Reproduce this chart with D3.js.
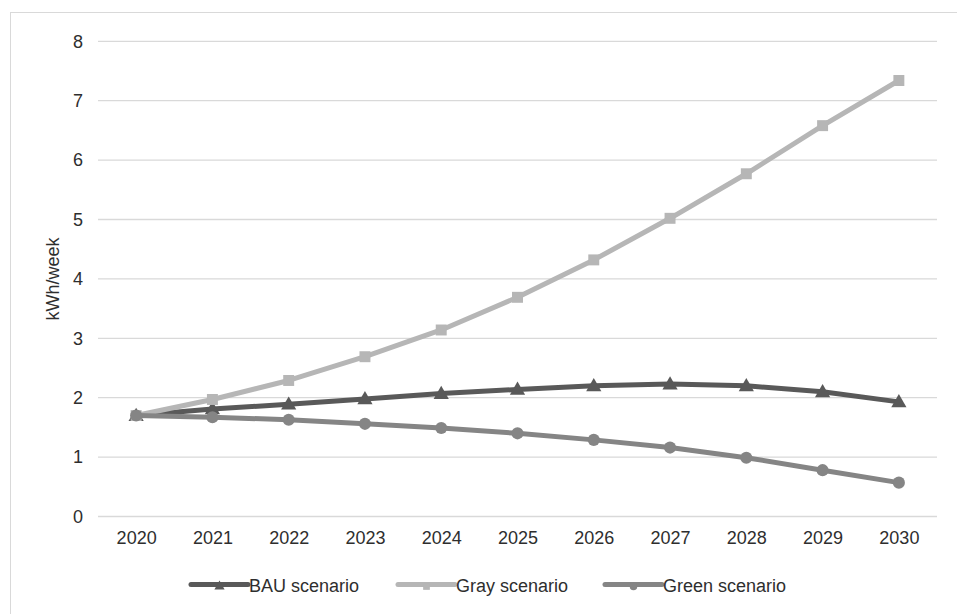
<!DOCTYPE html>
<html>
<head>
<meta charset="utf-8">
<script src="https://cdn.jsdelivr.net/npm/d3@7/dist/d3.min.js"></script>
<style>
  html, body { margin: 0; padding: 0; background: #fff; }
  svg { display: block; font-family: "Liberation Sans", Arial, sans-serif; }
</style>
</head>
<body>
<svg id="chart" width="957" height="614"></svg>
<script>
// Weekly energy use per scenario, 2020–2030
const years = ["2020","2021","2022","2023","2024","2025","2026","2027","2028","2029","2030"];
const bauValues   = [1.70, 1.81, 1.89, 1.98, 2.07, 2.14, 2.20, 2.23, 2.20, 2.10, 1.93];
const grayValues  = [1.70, 1.97, 2.29, 2.69, 3.14, 3.69, 4.32, 5.02, 5.77, 6.58, 7.34];
const greenValues = [1.70, 1.67, 1.63, 1.56, 1.49, 1.40, 1.29, 1.16, 0.99, 0.78, 0.57];
const yTicks = [0, 1, 2, 3, 4, 5, 6, 7, 8];
const seriesNames = ["BAU scenario", "Gray scenario", "Green scenario"];

const series = [
  { name: seriesNames[0], values: bauValues,   color: "#595959", marker: "triangle" },
  { name: seriesNames[1], values: grayValues,  color: "#b6b6b6", marker: "square" },
  { name: seriesNames[2], values: greenValues, color: "#858585", marker: "circle" }
];

const svg = d3.select("#chart");
const W = 957, H = 614;
const plot = { left: 98, right: 937, top: 41.3, bottom: 516.5 };
const textColor = "#2e2e2e";

// Outer chart frame
svg.append("rect")
  .attr("x", 10.5).attr("y", 12.5)
  .attr("width", W - 10).attr("height", H - 8)
  .attr("fill", "none").attr("stroke", "#d9d9d9").attr("stroke-width", 1);

const x = d3.scalePoint().domain(years).range([plot.left, plot.right]).padding(0.5);
const y = d3.scaleLinear().domain([0, 8]).range([plot.bottom, plot.top]);

// Horizontal gridlines
svg.append("g").selectAll("line").data(yTicks).join("line")
  .attr("x1", plot.left).attr("x2", plot.right)
  .attr("y1", d => y(d)).attr("y2", d => y(d))
  .attr("stroke", "#d9d9d9").attr("stroke-width", 1.3);

// Y axis labels
const yAxis = svg.append("g")
  .attr("transform", `translate(${plot.left},0)`)
  .call(d3.axisLeft(y).tickValues(yTicks).tickSize(0).tickPadding(15).tickFormat(d3.format("d")));
yAxis.select(".domain").remove();
yAxis.selectAll("text").attr("font-size", 18).attr("fill", textColor)
  .attr("font-family", "Liberation Sans, Arial, sans-serif");

// X axis labels
const xAxis = svg.append("g")
  .attr("transform", `translate(0,${plot.bottom})`)
  .call(d3.axisBottom(x).tickSize(0).tickPadding(15));
xAxis.select(".domain").remove();
xAxis.selectAll("text").attr("font-size", 18).attr("fill", textColor)
  .attr("font-family", "Liberation Sans, Arial, sans-serif");

// Y axis title
svg.append("text")
  .attr("transform", `translate(59,${(plot.top + plot.bottom) / 2}) rotate(-90)`)
  .attr("text-anchor", "middle")
  .attr("font-size", 18).attr("fill", textColor)
  .text("kWh/week");

const symbolFor = {
  triangle: d3.symbol().type(d3.symbolTriangle).size(100),
  square:   d3.symbol().type(d3.symbolSquare).size(120),
  circle:   d3.symbol().type(d3.symbolCircle).size(115)
};

const line = d3.line().x((d, i) => x(years[i])).y(d => y(d));

series.forEach(s => {
  const g = svg.append("g");
  g.append("path")
    .datum(s.values)
    .attr("d", line)
    .attr("fill", "none")
    .attr("stroke", s.color)
    .attr("stroke-width", 5)
    .attr("stroke-linejoin", "round")
    .attr("stroke-linecap", "round");
  g.selectAll("path.mk").data(s.values).join("path")
    .attr("class", "mk")
    .attr("d", symbolFor[s.marker])
    .attr("transform", (d, i) => `translate(${x(years[i])},${y(d) + (s.marker === "triangle" ? 1 : 0)})`)
    .attr("fill", s.color);
});

// Legend
const legendItems = [
  { x: 191, s: series[0] },
  { x: 398, s: series[1] },
  { x: 605, s: series[2] }
];
const legendY = 584.5;
legendItems.forEach(it => {
  const g = svg.append("g");
  g.append("line")
    .attr("x1", it.x).attr("x2", it.x + 57)
    .attr("y1", legendY).attr("y2", legendY)
    .attr("stroke", it.s.color).attr("stroke-width", 5)
    .attr("stroke-linecap", "round");
  g.append("path")
    .attr("d", d3.symbol().type(
      it.s.marker === "triangle" ? d3.symbolTriangle :
      it.s.marker === "square" ? d3.symbolSquare : d3.symbolCircle).size(45))
    .attr("transform", `translate(${it.x + 28.5},${legendY + 2})`)
    .attr("fill", it.s.color);
  g.append("text")
    .attr("x", it.x + 58).attr("y", legendY + 7)
    .attr("font-size", 18).attr("fill", textColor)
    .text(it.s.name);
});
</script>
</body>
</html>
